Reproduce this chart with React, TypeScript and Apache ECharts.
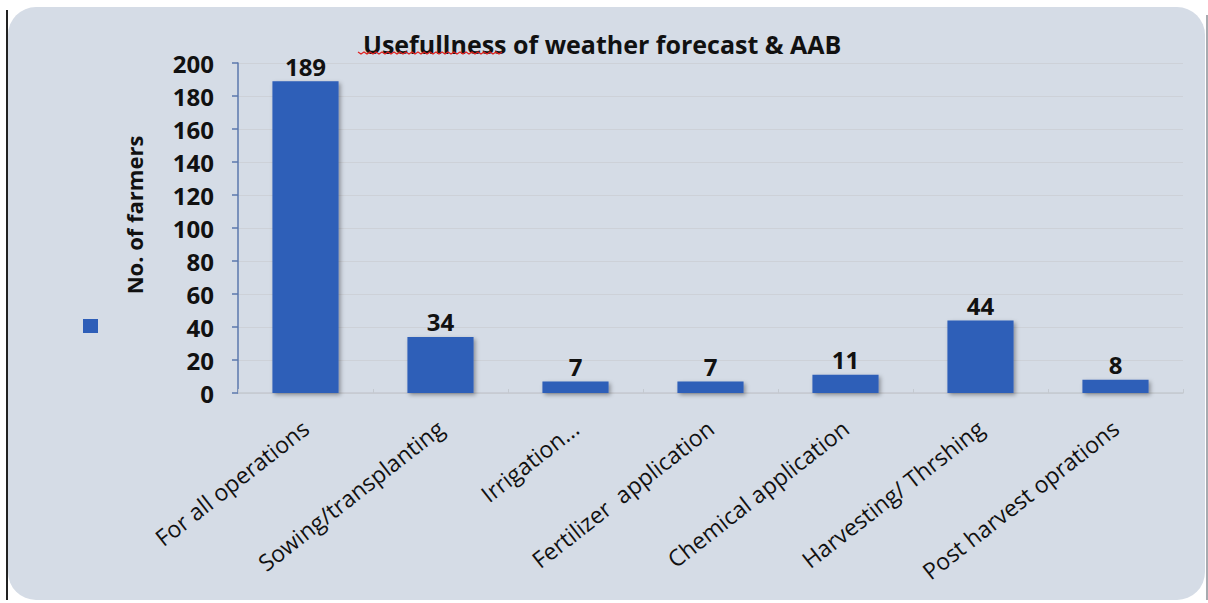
import React, { useEffect, useRef } from "react";
import * as echarts from "echarts";

const categories = [
  "For all operations",
  "Sowing/transplanting",
  "Irrigation...",
  "Fertilizer  application",
  "Chemical application",
  "Harvesting/ Thrshing",
  "Post harvest oprations",
];
const farmers = [189, 34, 7, 7, 11, 44, 8];
const titleText = "Usefullness of weather forecast & AAB";
const yAxisTitle = "No. of farmers";

const FONT = "'Open Sans', 'DejaVu Sans', sans-serif";

export default function App() {
  const ref = useRef<HTMLDivElement>(null);
  useEffect(() => {
    if (!ref.current) return;
    const chart = echarts.init(ref.current, undefined, { renderer: "svg" });

    // spell-check style squiggle under the first word of the title
    const squiggle: number[][] = [];
    for (let x = 358, i = 0; x <= 502; x += 3, i++) {
      squiggle.push([x, i % 2 === 0 ? 52 : 54]);
    }

    chart.setOption({
      animation: false,
      backgroundColor: "#ffffff",
      title: {
        text: titleText,
        left: 358,
        top: 26,
        textStyle: { fontFamily: FONT, fontWeight: "bold", fontSize: 25, color: "#111111" },
      },
      legend: {
        left: 78,
        top: 314,
        icon: "rect",
        itemWidth: 15,
        itemHeight: 14,
        formatter: () => "",
        data: ["farmers"],
      },
      graphic: [
        {
          type: "rect",
          z: -10,
          shape: { x: 8, y: 7, width: 1197, height: 593, r: 28 },
          style: { fill: "#d5dce6" },
        },
        {
          type: "line",
          z: -5,
          shape: { x1: 7, y1: 10, x2: 7, y2: 600 },
          style: { stroke: "#222222", lineWidth: 2 },
        },
        {
          type: "line",
          z: -5,
          shape: { x1: 1207, y1: 15, x2: 1207, y2: 600 },
          style: { stroke: "#8a8f96", lineWidth: 1.5 },
        },
        {
          type: "polyline",
          z: 10,
          shape: { points: squiggle },
          style: { stroke: "#e02020", lineWidth: 1.2, fill: "none" },
        },
        {
          type: "text",
          x: 134,
          y: 215,
          rotation: Math.PI / 2,
          style: {
            text: yAxisTitle,
            fontFamily: FONT,
            fontWeight: "bold",
            fontSize: 22,
            fill: "#111111",
            align: "center",
            verticalAlign: "middle",
          },
        },
      ],
      grid: { left: 238, right: 25, top: 63, bottom: 210, containLabel: false },
      xAxis: {
        type: "category",
        data: categories,
        axisLine: { show: true, lineStyle: { color: "#c4c9d0", width: 1.5 } },
        axisTick: { show: true, alignWithLabel: false, length: 4, inside: true, lineStyle: { color: "#c4c9d0" } },
        axisLabel: {
          rotate: 38,
          interval: 0,
          margin: 32,
          fontFamily: FONT,
          fontSize: 23,
          color: "#111111",
        },
      },
      yAxis: {
        type: "value",
        min: 0,
        max: 200,
        interval: 20,
        axisLine: { show: true, lineStyle: { color: "#5b78ad", width: 1.5 } },
        axisTick: { show: true, length: 6, lineStyle: { color: "#5b78ad", width: 1.5 } },
        axisLabel: {
          margin: 24,
          fontFamily: FONT,
          fontWeight: "bold",
          fontSize: 24,
          color: "#111111",
        },
        splitLine: { show: true, lineStyle: { color: "#cdd1d8", width: 1 } },
      },
      series: [
        {
          name: "farmers",
          type: "bar",
          data: farmers,
          barWidth: "49%",
          itemStyle: {
            color: "#2e5eb8",
            shadowColor: "rgba(0,0,0,0.35)",
            shadowBlur: 4,
            shadowOffsetX: 2,
            shadowOffsetY: 2,
          },
          label: {
            show: true,
            position: "top",
            distance: 3,
            fontFamily: FONT,
            fontWeight: "bold",
            fontSize: 24,
            color: "#111111",
          },
        },
      ],
    });
    return () => chart.dispose();
  }, []);
  return (
    <div
      ref={ref}
      style={{ position: "absolute", left: 0, top: 0, width: 1208, height: 603 }}
    />
  );
}
